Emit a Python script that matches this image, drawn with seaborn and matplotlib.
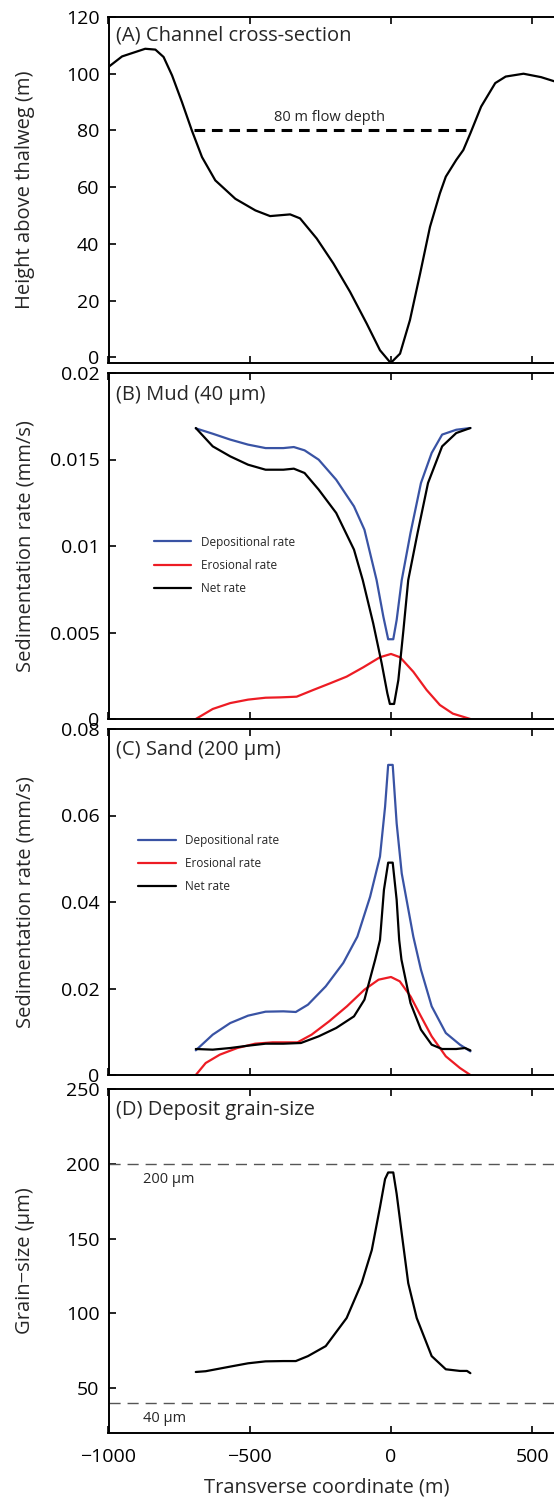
import numpy as np
import pandas as pd
import matplotlib
matplotlib.use("Agg")
import matplotlib.pyplot as plt
from matplotlib.ticker import FuncFormatter
import seaborn as sns

# --- (A) channel cross-section ---
xa = [-1000, -952, -870, -834, -805, -775, -740, -705, -669, -622, -551, -480, -428,
      -357, -322, -263, -204, -145, -86, -39, -1, 32, 67, 103, 138, 173, 194, 231, 256,
      281, 319, 369, 406, 469, 531, 579, 620, 700]
ha = [102.4, 106.1, 108.8, 108.5, 105.9, 99.4, 90.0, 80.0, 70.6, 62.4, 55.9, 51.8, 49.8,
      50.4, 49.0, 41.9, 33.1, 23.1, 11.9, 2.5, -2.0, 1.3, 13.1, 29.5, 46.0, 57.8, 63.7,
      69.6, 73.1, 79.0, 88.4, 96.7, 99.0, 100.0, 98.8, 97.3, 95.5, 92.0]
flow_x = [-698, 281]
flow_h = [80, 80]

# --- (B) mud, 40 um ---
xb_dep = [-691, -631, -569, -506, -444, -381, -344, -306, -256, -194, -131, -94, -51,
          -27, -10, 8, 20, 38, 69, 106, 144, 181, 231, 281]
b_dep = [0.0168, 0.01649, 0.01615, 0.01586, 0.01566, 0.01566, 0.01572, 0.01553, 0.01499,
         0.01383, 0.01229, 0.01094, 0.00803, 0.00591, 0.00461, 0.00461, 0.00572, 0.00803,
         0.01075, 0.01364, 0.01538, 0.01644, 0.01672, 0.01682]
xb_ero = [-691, -631, -569, -506, -444, -393, -334, -275, -216, -157, -98, -39, 0, 32,
          79, 126, 173, 219, 281]
b_ero = [0.0, 0.00058, 0.00092, 0.00112, 0.00123, 0.00125, 0.00129, 0.00168, 0.00206,
         0.00245, 0.00299, 0.00357, 0.00376, 0.00357, 0.00273, 0.00168, 0.00081, 0.00031, 0.0]
xb_net = [-691, -631, -569, -506, -444, -381, -344, -306, -256, -194, -131, -100, -63,
          -33, -13, -4, 11, 26, 44, 61, 94, 131, 181, 231, 281]
b_net = [0.01682, 0.01576, 0.01518, 0.0147, 0.01441, 0.01441, 0.01447, 0.01422, 0.01326,
         0.01191, 0.00979, 0.00803, 0.00553, 0.00322, 0.00149, 0.00087, 0.00087, 0.00225,
         0.00514, 0.00803, 0.01075, 0.01364, 0.01576, 0.01653, 0.01682]

# --- (C) sand, 200 um ---
xc_dep = [-691, -631, -569, -506, -444, -381, -337, -294, -231, -169, -119, -74, -39,
          -21, -10, 6, 20, 38, 79, 106, 144, 194, 244, 281]
c_dep = [0.0057, 0.00933, 0.01202, 0.01372, 0.01464, 0.01472, 0.01457, 0.01626, 0.0205,
         0.0259, 0.032, 0.0412, 0.0505, 0.062, 0.0717, 0.0717, 0.0582, 0.0466, 0.032,
         0.02435, 0.01588, 0.00971, 0.00701, 0.00547]
xc_ero = [-691, -656, -606, -544, -481, -419, -331, -281, -219, -156, -94, -44, 0, 31,
          69, 106, 144, 194, 244, 281]
c_ero = [0.0, 0.00277, 0.0047, 0.00624, 0.00724, 0.00755, 0.00755, 0.00933, 0.01241,
         0.01588, 0.01973, 0.02204, 0.02266, 0.02166, 0.01819, 0.01356, 0.00894, 0.00432,
         0.00162, 0.0]
xc_net = [-691, -631, -569, -506, -444, -381, -319, -256, -194, -131, -94, -56, -39, -25,
          -10, 6, 20, 29, 37, 69, 106, 144, 181, 231, 262, 281]
c_net = [0.00601, 0.00586, 0.00624, 0.00678, 0.00724, 0.00724, 0.0074, 0.00894, 0.01087,
         0.01356, 0.01742, 0.02667, 0.0312, 0.0428, 0.0491, 0.0491, 0.0405, 0.0312,
         0.02667, 0.01665, 0.01048, 0.00701, 0.00601, 0.00601, 0.00624, 0.0057]

# --- (D) deposit grain size ---
xd = [-691, -656, -569, -506, -444, -381, -337, -294, -231, -157, -104, -68, -39, -21,
      -10, 8, 20, 38, 61, 91, 144, 194, 244, 269, 281]
gd = [60.8, 61.3, 64.4, 66.6, 67.9, 68.1, 68.1, 71.4, 78.1, 96.9, 120.2, 142.3, 171.0,
      189.8, 194.2, 194.2, 179.9, 153.4, 120.2, 96.9, 71.4, 62.6, 61.5, 61.5, 60.0]
ref_sizes = [200, 40]
ref_labels = ["200 μm", "40 μm"]

series_names = ["Depositional rate", "Erosional rate", "Net rate"]
series_colors = ["#3953a4", "#ed1c24", "#000000"]

sns.set_style("ticks")
plt.rcParams["font.family"] = ["Open Sans", "DejaVu Sans"]
plt.rcParams["axes.linewidth"] = 1.4
plt.rcParams["axes.edgecolor"] = "black"

fig = plt.figure(figsize=(5.54, 15), dpi=100)
# axes run past the right edge of the figure (the reference is cropped there)
left, width = 108.5 / 554, 565 / 554
tops = [(17, 363), (373, 719), (729, 1075), (1089, 1433)]
axes = [fig.add_axes([left, 1 - b / 1500, width, (b - t) / 1500]) for t, b in tops]

num_fmt = FuncFormatter(lambda v, p: f"{v:g}".replace("-", "\u2212"))
for ax in axes:
    ax.set_xlim(-1000, 1000)
    ax.set_xticks([-1000, -500, 0, 500])
    ax.tick_params(direction="in", top=True, right=True, length=5, width=1.2,
                   labelsize=14, colors="black")
    ax.tick_params(axis="y", pad=6.5)
    ax.tick_params(axis="x", pad=11)
    ax.xaxis.set_major_formatter(num_fmt)
    ax.yaxis.set_major_formatter(num_fmt)
    for s in ax.spines.values():
        s.set_visible(True)
        s.set_linewidth(1.4)

lw = 1.6
# (A)
ax = axes[0]
sns.lineplot(x=xa, y=ha, ax=ax, color="black", lw=lw, sort=False)
ax.plot(flow_x, flow_h, color="black", lw=2.2, ls=(0, (3.5, 2.2)))
ax.text(-219, 84.5, "80 m flow depth", ha="center", va="center", fontsize=10.5)
ax.set_ylim(-2, 120)
ax.set_yticks(range(0, 121, 20))
ax.set_ylabel("Height above thalweg (m)", fontsize=14.5)
ax.text(0.014, 0.947, "(A) Channel cross-section", transform=ax.transAxes,
        ha="left", va="center", fontsize=14.5)

# (B) and (C)
for ax, data, ylim, title, ty, leg_anchor in [
    (axes[1], [(xb_dep, b_dep), (xb_ero, b_ero), (xb_net, b_net)], 0.02,
     "(B) Mud (40 μm)", 0.936, (0.08, 0.53)),
    (axes[2], [(xc_dep, c_dep), (xc_ero, c_ero), (xc_net, c_net)], 0.08,
     "(C) Sand (200 μm)", 0.939, (0.052, 0.697)),
]:
    for (xs, ys), name, col in zip(data, series_names, series_colors):
        sns.lineplot(x=xs, y=ys, ax=ax, color=col, lw=lw, label=name, sort=False)
    ax.set_ylim(0, ylim)
    ax.set_yticks(np.linspace(0, ylim, 5))
    ax.set_ylabel("Sedimentation rate (mm/s)", fontsize=14.5)
    ax.text(0.014, ty, title, transform=ax.transAxes, ha="left", va="center", fontsize=14.5)
    ax.legend(loc="upper left", bbox_to_anchor=leg_anchor, frameon=False, fontsize=8.5,
              handlelength=3.2, handletextpad=0.8, labelspacing=0.85, borderaxespad=0,
              borderpad=0)

# (D)
ax = axes[3]
sns.lineplot(x=xd, y=gd, ax=ax, color="black", lw=lw, sort=False)
for v, lab in zip(ref_sizes, ref_labels):
    ax.axhline(v, color="#555555", lw=1.0, ls=(0, (8, 5)))
    ax.text(-878, v - 10.5, lab, ha="left", va="center", fontsize=10.5)
ax.set_ylim(20, 250)
ax.set_yticks([50, 100, 150, 200, 250])
ax.set_ylabel("Grain\u2212size (μm)", fontsize=14.5)
ax.text(0.014, 0.939, "(D) Deposit grain-size", transform=ax.transAxes,
        ha="left", va="center", fontsize=14.5)
ax.set_xlabel("Transverse coordinate (m)", fontsize=14.5)
ax.xaxis.set_label_coords(0.386, -0.128)

for ax in axes:
    ax.yaxis.set_label_coords(-0.130, 0.5)
for ax in axes[:3]:
    ax.tick_params(labelbottom=False)

fig.savefig("out.png", dpi=100)
